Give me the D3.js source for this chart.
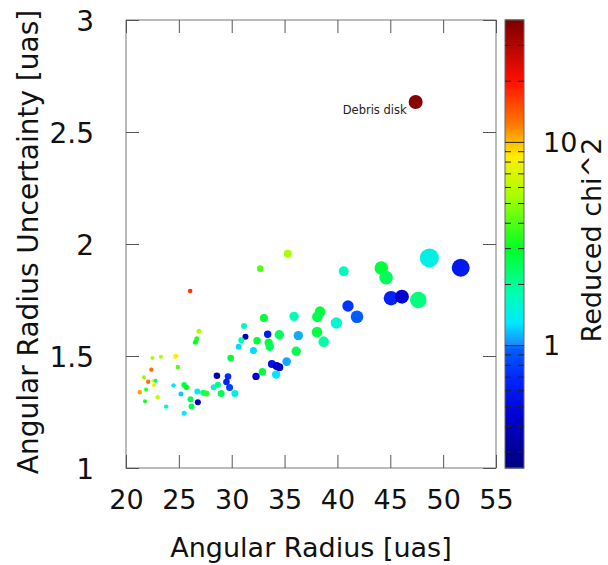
<!DOCTYPE html>
<html>
<head>
<meta charset="utf-8">
<script src="https://cdn.jsdelivr.net/npm/d3@7"></script>
<style>
  html, body { margin: 0; padding: 0; background: #fff; }
  svg { display: block; font-family: "DejaVu Sans", sans-serif; }
</style>
</head>
<body>
<svg id="chart" width="608" height="565"></svg>
<script>
// ---------------- data ----------------
const angularRadius = [
  26.07, 26.9, 26.7, 26.56, 31.16, 31.3, 30.9, 30.66, 32.05, 29.9,
  22.5, 23.3, 24.7, 24.9, 22.4, 21.7, 22.1, 22.6, 22.8, 22.65,
  21.3, 21.9, 23.0, 21.8, 23.8, 24.5, 25.2, 25.5, 25.7, 25.5,
  26.1, 26.2, 26.8, 26.75, 27.3, 27.6, 28.6, 29.65, 29.5, 29.8,
  28.3, 28.7, 29.0, 30.3, 35.3, 32.7, 40.6, 41.0, 41.85, 39.9,
  38.35, 38.1, 38.07, 38.7, 35.9, 36.3, 36.1, 33.05, 34.5, 33.4,
  33.5, 33.6, 32.4, 35.2, 33.8, 34.25, 34.5, 34.2, 32.9, 32.3,
  48.7, 51.66, 44.15, 44.6, 45.07, 46.1, 47.65, 47.4
];
const radiusUncertainty = [
  1.79, 1.61, 1.577, 1.561, 1.634, 1.586, 1.570, 1.541, 1.525, 1.491,
  1.491, 1.497, 1.499, 1.451, 1.439, 1.405, 1.385, 1.390, 1.390, 1.371,
  1.338, 1.350, 1.316, 1.298, 1.274, 1.369, 1.330, 1.371, 1.360, 1.244,
  1.307, 1.274, 1.293, 1.341, 1.336, 1.333, 1.412, 1.408, 1.384, 1.359,
  1.360, 1.372, 1.333, 1.333, 1.957, 1.890, 1.878, 1.723, 1.675, 1.647,
  1.698, 1.675, 1.607, 1.564, 1.677, 1.591, 1.521, 1.670, 1.595, 1.597,
  1.559, 1.541, 1.568, 1.475, 1.464, 1.455, 1.450, 1.417, 1.430, 1.409,
  1.938, 1.894, 1.893, 1.850, 1.758, 1.765, 1.750, 2.634
];
const reducedChi2 = [
  17, 5.5, 3.5, 3.0, 1.7, 0.4, 1.8, 1.25, 1.25, 2.8,
  5.5, 5.5, 8.5, 4.0, 13, 5.0, 13, 8.0, 2.5, 7.5,
  11, 3.5, 6.5, 3.2, 1.7, 1.3, 1.2, 2.5, 3.0, 1.3,
  2.5, 2.6, 0.4, 1.4, 2.2, 3.5, 0.35, 0.7, 0.65, 0.8,
  1.6, 2.2, 2.5, 1.5, 5.5, 4.0, 1.7, 0.75, 0.95, 1.6,
  2.8, 2.6, 2.7, 1.9, 1.8, 1.1, 2.6, 2.8, 2.5, 0.6,
  2.8, 2.5, 2.8, 1.1, 0.55, 0.4, 0.45, 1.3, 2.8, 0.45,
  1.45, 0.6, 2.8, 2.5, 0.65, 0.45, 2.2, 38
];
const markerWeight = [
  2.3, 2.5, 2.5, 2.5, 3, 3, 3, 3, 3.5, 3.3,
  2, 2, 2.5, 2.2, 2.2, 2, 2.2, 2, 2, 2,
  2.2, 2, 2.2, 2, 2.2, 2.2, 2.5, 2.8, 2.8, 2.5,
  3, 3, 3, 3, 3, 3, 3.3, 3.3, 3.3, 3.5,
  3, 3, 3.5, 3.5, 4, 3.3, 5, 5.7, 6.3, 5.7,
  5.3, 5.3, 5.3, 5.3, 4.7, 4.7, 4.7, 4, 4.7, 3.7,
  4.2, 4.2, 3.7, 4.3, 4, 4, 4, 4.2, 3.7, 3.7,
  9.5, 9, 6.8, 6.8, 7.3, 7, 8.3, 7
];
const annotationText = ["Debris disk"];
const annotationIndex = [77];

const xTicks = [20, 25, 30, 35, 40, 45, 50, 55];
const yTicks = [1, 1.5, 2, 2.5, 3];
const yTickLabels = ["1", "1.5", "2", "2.5", "3"];
const cbMajorTicks = [1, 10];
const cbMinorTicks = [0.3, 0.4, 0.5, 0.6, 0.7, 0.8, 0.9, 2, 3, 4, 5, 6, 7, 8, 9, 20, 30];
const cbDomain = [0.25, 40];

const xTitle = "Angular Radius [uas]";
const yTitle = "Angular Radius Uncertainty [uas]";
const cbTitle = "Reduced chi^2";

// colormap (jet-like), stops in reduced chi^2
const cmapValues = [0.25, 0.45, 0.7, 0.97, 1.02, 1.3, 1.8, 3.0, 5.5, 8.5, 10, 12, 20, 40];
const cmapColors = ["#00007c", "#0000d0", "#0028ff", "#0060ff", "#1a8cff", "#00e8ff", "#00ffb4",
                    "#00ff28", "#a8ff00", "#ffee00", "#ffc000", "#ff8000", "#ff1000", "#7c0000"];

// ---------------- layout ----------------
const svg = d3.select("#chart");
const L = 126, R = 496, T = 20, B = 468;
const cbL = 505, cbR = 524;

const x = d3.scaleLinear().domain([20, 55]).range([L, R]);
const y = d3.scaleLinear().domain([1, 3]).range([B, T]);
const rScale = d3.scaleLinear().domain([0, 10]).range([0, 10]);
const cbY = d3.scaleLog().domain(cbDomain).range([B, T]);
const color = d3.scaleLinear()
  .domain(cmapValues.map(v => Math.log10(v)))
  .range(cmapColors)
  .interpolate(d3.interpolateRgb)
  .clamp(true);
const colorOf = v => color(Math.log10(v));

svg.append("rect").attr("width", 608).attr("height", 565).attr("fill", "#fff");

// frame
svg.append("rect").attr("x", L).attr("y", T).attr("width", R - L).attr("height", B - T)
  .attr("fill", "none").attr("stroke", "#777").attr("stroke-width", 1);

// axes (ticks inward, mirrored)
const tickLen = 13;
const axB = svg.append("g").attr("transform", `translate(0,${B})`)
  .call(d3.axisBottom(x).tickValues(xTicks).tickSize(-tickLen).tickPadding(tickLen + 9));
const axT = svg.append("g").attr("transform", `translate(0,${T})`)
  .call(d3.axisTop(x).tickValues(xTicks).tickSize(-tickLen).tickFormat(""));
const axL = svg.append("g").attr("transform", `translate(${L},0)`)
  .call(d3.axisLeft(y).tickValues(yTicks).tickSize(-tickLen).tickPadding(tickLen + 19)
    .tickFormat((d, i) => yTickLabels[i]));
const axR = svg.append("g").attr("transform", `translate(${R},0)`)
  .call(d3.axisRight(y).tickValues(yTicks).tickSize(-tickLen).tickFormat(""));
[axB, axT, axL, axR].forEach(g => {
  g.select(".domain").remove();
  g.selectAll(".tick line").attr("stroke", "#555");
  g.selectAll(".tick text").attr("font-size", 27).attr("fill", "#111")
    .attr("font-family", "DejaVu Sans, sans-serif");
});
axB.selectAll(".tick text").attr("dy", "0.71em");
axL.selectAll(".tick text").attr("dy", "0.36em").attr("font-size", 28);

// points
const pts = angularRadius.map((v, i) => ({
  x: v, y: radiusUncertainty[i], c: reducedChi2[i], w: markerWeight[i]
}));
svg.append("g").selectAll("circle").data(pts).join("circle")
  .attr("cx", d => x(d.x)).attr("cy", d => y(d.y))
  .attr("r", d => rScale(d.w))
  .attr("fill", d => colorOf(d.c));

// annotation
annotationIndex.forEach((idx, k) => {
  svg.append("text")
    .attr("x", x(angularRadius[idx]) - 9)
    .attr("y", y(radiusUncertainty[idx]) + 12)
    .attr("text-anchor", "end").attr("font-size", 11.5).attr("fill", "#222")
    .text(annotationText[k]);
});

// axis titles
svg.append("text").attr("x", (L + R) / 2).attr("y", 557).attr("text-anchor", "middle")
  .attr("font-size", 27).attr("fill", "#111").text(xTitle);
svg.append("text").attr("transform", `translate(38,${(T + B) / 2 - 2}) rotate(-90)`)
  .attr("text-anchor", "middle").attr("font-size", 28).attr("fill", "#111").text(yTitle);

// colorbar
const cb = svg.append("g");
const nSteps = 300;
const lo = Math.log10(cbDomain[0]), hi = Math.log10(cbDomain[1]);
const steps = d3.range(nSteps).map(i => Math.pow(10, lo + (hi - lo) * (i + 0.5) / nSteps));
const stepH = (B - T) / nSteps;
cb.selectAll("rect.s").data(steps).join("rect").attr("class", "s")
  .attr("x", cbL).attr("width", cbR - cbL)
  .attr("y", d => cbY(d) - stepH / 2 - 0.5).attr("height", stepH + 1)
  .attr("fill", d => colorOf(d));
cb.append("rect").attr("x", cbL).attr("y", T).attr("width", cbR - cbL).attr("height", B - T)
  .attr("fill", "none").attr("stroke", "#666").attr("stroke-width", 1);
cb.selectAll("g.mn").data(cbMinorTicks).join("g").attr("class", "mn").each(function (d) {
  const g = d3.select(this);
  g.append("line").attr("x1", cbL).attr("x2", cbL + 6).attr("y1", cbY(d)).attr("y2", cbY(d))
    .attr("stroke", "#222").attr("stroke-width", 1);
  g.append("line").attr("x1", cbR - 6).attr("x2", cbR).attr("y1", cbY(d)).attr("y2", cbY(d))
    .attr("stroke", "#222").attr("stroke-width", 1);
});
cb.selectAll("line.mj").data(cbMajorTicks).join("line").attr("class", "mj")
  .attr("x1", cbL).attr("x2", cbR).attr("y1", d => cbY(d)).attr("y2", d => cbY(d))
  .attr("stroke", "#222").attr("stroke-width", 1);
cb.selectAll("text.lab").data(cbMajorTicks).join("text").attr("class", "lab")
  .attr("x", 543).attr("y", d => cbY(d)).attr("dy", "0.36em")
  .attr("font-size", 27).attr("fill", "#111").text(d => d3.format("d")(d));
svg.append("text").attr("transform", `translate(601,240) rotate(-90)`)
  .attr("text-anchor", "middle").attr("font-size", 27).attr("fill", "#111").text(cbTitle);
</script>
</body>
</html>
